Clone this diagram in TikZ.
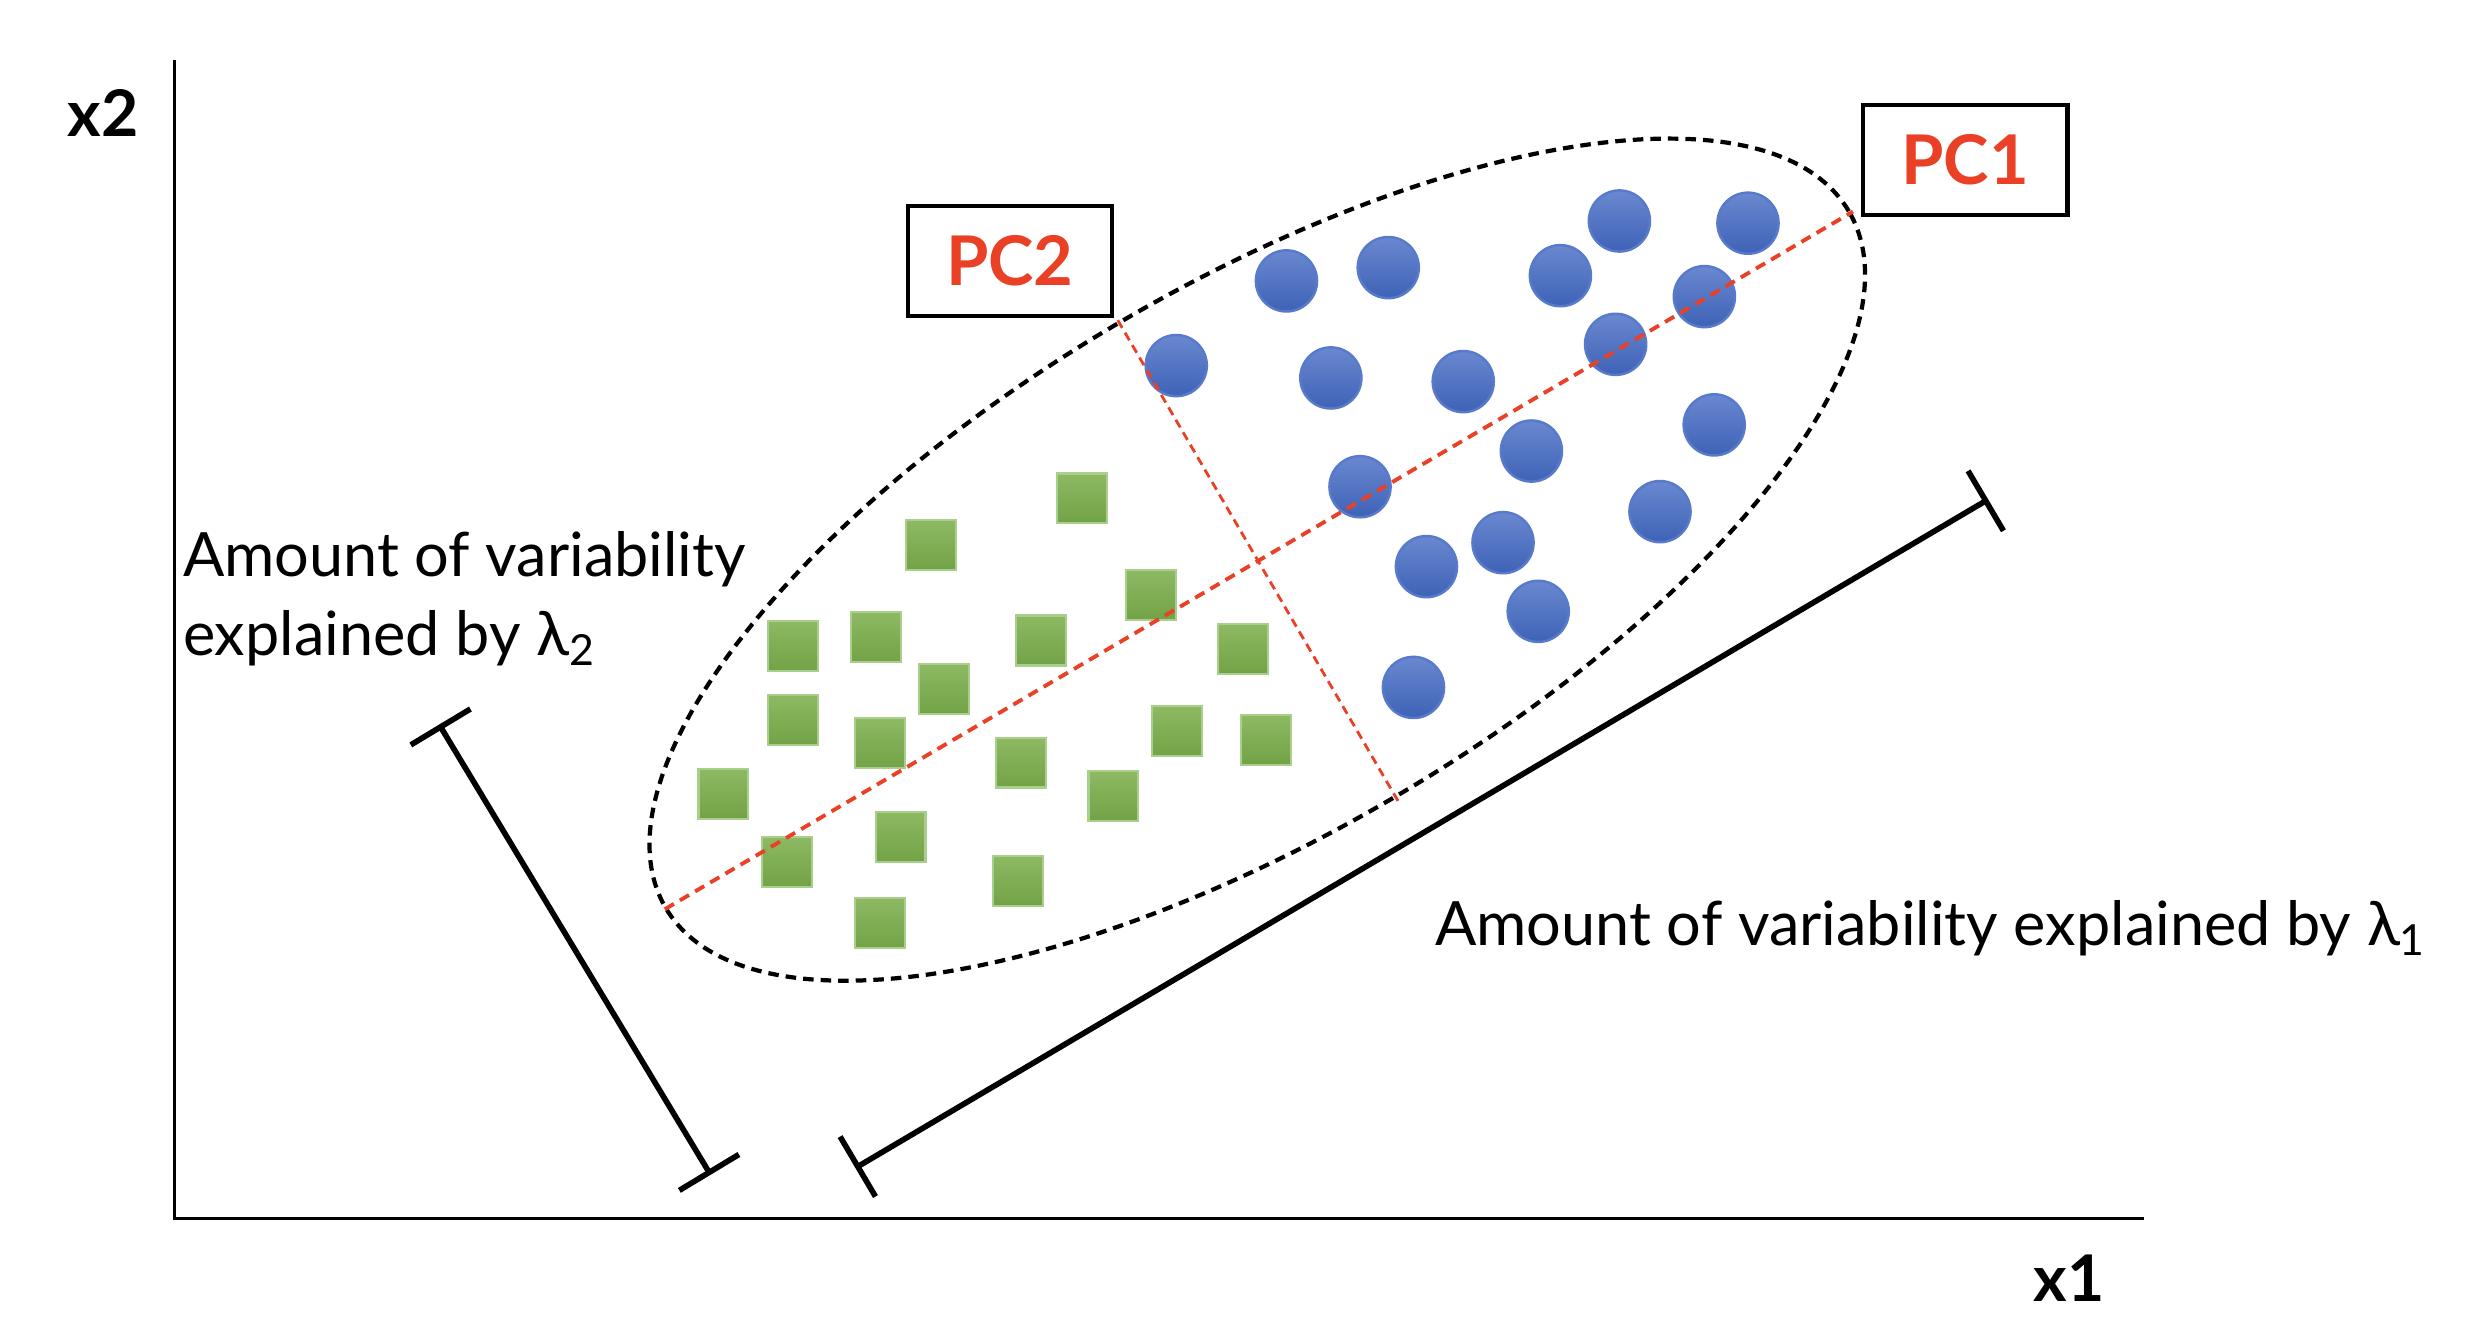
\documentclass[tikz,border=0pt]{standalone}
\usepackage{fontspec}
\setmainfont{Lato}
\usetikzlibrary{arrows.meta}
\definecolor{pcred}{RGB}{233,64,38}
\definecolor{dotTop}{RGB}{106,136,208}
\definecolor{dotBot}{RGB}{62,98,182}
\definecolor{dotEdge}{RGB}{88,122,202}
\definecolor{sqTop}{RGB}{141,185,98}
\definecolor{sqBot}{RGB}{114,162,70}
\definecolor{sqEdge}{RGB}{170,206,140}
\begin{document}
\begin{tikzpicture}[x=0.015855cm,y=0.015855cm,
  bluedot/.style={circle, minimum size=17.4pt, inner sep=0pt, top color=dotTop, bottom color=dotBot, draw=dotEdge, line width=0.7pt},
  greensq/.style={rectangle, minimum size=14.2pt, inner sep=0pt, top color=sqTop, bottom color=sqBot, draw=sqEdge, line width=0.6pt},
  pcbox/.style={draw=black, line width=1.2pt, minimum width=58.2pt, minimum height=31.2pt, inner sep=0pt, text=pcred, font=\bfseries\fontsize{19.5}{22}\selectfont},
  axislabel/.style={font=\bfseries\fontsize{18.3}{22}\selectfont, inner sep=0pt, anchor=base},
  bodytext/.style={font=\fontsize{17.4}{22.5}\selectfont, inner sep=0pt, align=left},
  axisline/.style={line width=1pt},
  scalebar/.style={line width=1.6pt, arrows={Bar[width=19.8pt]-Bar[width=19.8pt]}},
  hull/.style={line width=1.2pt, dash pattern=on 3pt off 2pt},
  pcone/.style={pcred, line width=1.1pt, dash pattern=on 3pt off 2pt},
  pctwo/.style={pcred, line width=0.8pt, dash pattern=on 2.5pt off 1.6pt}
]
\useasboundingbox (0,0) rectangle (1568,838);

% axes
\coordinate (origin) at (110,69.5);
\coordinate (ytop) at (110,800);
\coordinate (xend) at (1352.5,69.5);
\draw[axisline] (ytop) -- (origin) -- (xend);
\node[axislabel] (x2lab) at (65,752) {x2};
\node[axislabel] (x1lab) at (1305,17) {x1};

% hull ellipse
\coordinate (ctr) at (793,485);
\draw[hull] (ctr) ellipse [x radius=433, y radius=173, rotate=30.5];

% squares
\foreach \i/\x/\y in {1/682.2/314.4, 2/587.3/344, 3/726.1/375.5, 4/500.1/407.5, 5/552.7/401.8,
  6/656.6/404, 7/784.2/409.5, 8/595.6/434.6, 9/500.1/454, 10/554.9/468.6, 11/742.4/461.2,
  12/798.7/466.5, 13/643.8/481, 14/456.3/500.6, 15/702.3/501.9, 16/496.2/543.9, 17/568/528,
  18/642.1/555.9, 19/554.9/582}
  \node[greensq] (g\i) at (\x,838-\y) {};

% circles
\foreach \i/\x/\y in {1/1021.4/139.4, 2/1102.5/140.8, 3/811.4/177.2, 4/875.6/168.8, 5/984.2/173.9,
  6/1075/187.1, 7/741.9/230.6, 8/839.4/238.4, 9/922.9/240.7, 10/1019/217.2, 11/1081.2/268,
  12/965.9/284.5, 13/857.8/307, 14/1047/322.7, 15/948/342.3, 16/899.7/357.4, 17/970.2/385.6,
  18/891.5/433.6}
  \node[bluedot] (b\i) at (\x,838-\y) {};

% principal component lines
\coordinate (pc1lo) at (419.3,264.5);
\coordinate (pc1hi) at (1168.7,704.5);
\coordinate (pc2hi) at (705,636);
\coordinate (pc2lo) at (882,332.4);
\draw[pcone] (pc1lo) -- (pc1hi);
\draw[pctwo] (pc2hi) -- (pc2lo);

% labels
\node[pcbox] (pc2box) at (637,673.5) {PC2};
\node[pcbox] (pc1box) at (1239.5,737) {PC1};

% scale bars
\coordinate (l2a) at (277,381);
\coordinate (l2b) at (448.2,97);
\draw[scalebar] (l2a) -- (l2b);
\coordinate (l1a) at (539.5,101.3);
\coordinate (l1b) at (1254,523);
\draw[scalebar] (l1a) -- (l1b);

\node[bodytext, anchor=base west] (lam2txt) at (115,424.4) {Amount of variability\\explained by λ\textsubscript{2}};
\node[bodytext, anchor=base west] (lam1txt) at (904.8,241.6) {Amount of variability explained by λ\textsubscript{1}};
\end{tikzpicture}
\end{document}
